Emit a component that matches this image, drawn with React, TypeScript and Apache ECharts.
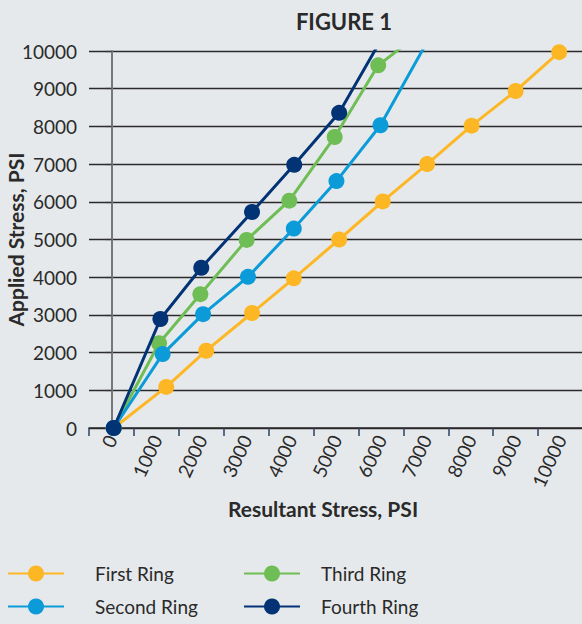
import React, { useEffect, useRef } from "react";
import * as echarts from "echarts";

const categories = ["0", "1000", "2000", "3000", "4000", "5000", "6000", "7000", "8000", "9000", "10000"];

const firstRing = [[50, 0], [1220, 1090], [2110, 2050], [3130, 3050], [4060, 3970], [5070, 5000], [6040, 6010], [7030, 7000], [8020, 8020], [9000, 8940], [9970, 9970]];
const secondRing = [[50, 0], [1140, 1960], [2040, 3020], [3040, 4010], [4060, 5290], [5010, 6550], [5990, 8030], [7150, 10500]];
const thirdRing = [[50, 0], [1060, 2250], [1980, 3550], [3010, 4990], [3960, 6030], [4970, 7720], [5940, 9620], [6900, 10500]];
const fourthRing = [[50, 0], [1090, 2890], [2000, 4250], [3130, 5730], [4070, 6980], [5070, 8360], [6100, 10500]];

const FONT = "Lato";

export default function App() {
  const ref = useRef<HTMLDivElement>(null);
  useEffect(() => {
    if (!ref.current) return;
    const chart = echarts.init(ref.current, undefined, { renderer: "svg" });
    const mk = (name: string, data: number[][], color: string, z: number) => ({
      name,
      type: "line",
      xAxisIndex: 1,
      yAxisIndex: 0,
      data,
      clip: true,
      z,
      symbol: "circle",
      symbolSize: 16,
      itemStyle: { color },
      lineStyle: { color, width: 3 },
    });
    const legendBase = {
      orient: "vertical",
      top: 564,
      padding: 0,
      itemWidth: 56,
      itemHeight: 20,
      itemGap: 14,
    };
    chart.setOption({
      animation: false,
      backgroundColor: "#e6e9ec",
      textStyle: { fontFamily: FONT },
      title: {
        text: "FIGURE 1",
        left: 339,
        textAlign: "center",
        top: 5,
        textStyle: { fontFamily: FONT, fontSize: 22, fontWeight: "bold", color: "#2a2a2a" },
      },
      grid: { left: 89, top: 51, right: -1, bottom: 196, containLabel: false, outerBoundsMode: "none" },
      xAxis: [
        {
          type: "category",
          data: categories,
          boundaryGap: true,
          position: "bottom",
          name: "Resultant Stress, PSI",
          nameLocation: "middle",
          nameGap: 69,
          nameTextStyle: { fontFamily: FONT, fontSize: 21, fontWeight: "bold", color: "#2a2a2a", padding: [0, 26, 0, 0] },
          axisLine: { show: true, lineStyle: { color: "#2a2a2a", width: 1.5 } },
          axisTick: { show: true, length: 8, lineStyle: { color: "#2d3f66", width: 1.5 } },
          axisLabel: { rotate: 65, margin: 8, fontFamily: FONT, fontSize: 19, color: "#2a2a2a" },
          splitLine: { show: false },
        },
        {
          type: "value",
          min: -500,
          max: 10500,
          show: false,
        },
      ],
      yAxis: {
        type: "value",
        min: 0,
        max: 10000,
        interval: 1000,
        name: "Applied Stress, PSI",
        nameLocation: "middle",
        nameGap: 63,
        nameMoveOverlap: false,
        nameTextStyle: { fontFamily: FONT, fontSize: 21, fontWeight: "bold", color: "#2a2a2a" },
        axisLine: { show: true, lineStyle: { color: "#777", width: 2 } },
        axisTick: { show: true, length: 6, lineStyle: { color: "#333", width: 1.2 } },
        axisLabel: { margin: 12, fontFamily: FONT, fontSize: 19, color: "#2a2a2a", formatter: (v: number) => String(v) },
        splitLine: { show: true, lineStyle: { color: "#2a2a2a", width: 1.3 } },
      },
      legend: [
        {
          ...legendBase,
          data: ["First Ring", "Second Ring"],
          left: 7,
          textStyle: { fontFamily: FONT, fontSize: 19, color: "#2a2a2a", padding: [0, 0, 0, 26] },
        },
        {
          ...legendBase,
          data: ["Third Ring", "Fourth Ring"],
          left: 243,
          textStyle: { fontFamily: FONT, fontSize: 19, color: "#2a2a2a", padding: [0, 0, 0, 16] },
        },
      ],
      series: [
        mk("First Ring", firstRing, "#fdb724", 2),
        mk("Third Ring", thirdRing, "#6fbd55", 3),
        mk("Second Ring", secondRing, "#0b9bd8", 4),
        mk("Fourth Ring", fourthRing, "#023374", 5),
      ],
    });
    return () => chart.dispose();
  }, []);
  return <div ref={ref} style={{ position: "fixed", left: 0, top: 0, width: 582, height: 624 }} />;
}
